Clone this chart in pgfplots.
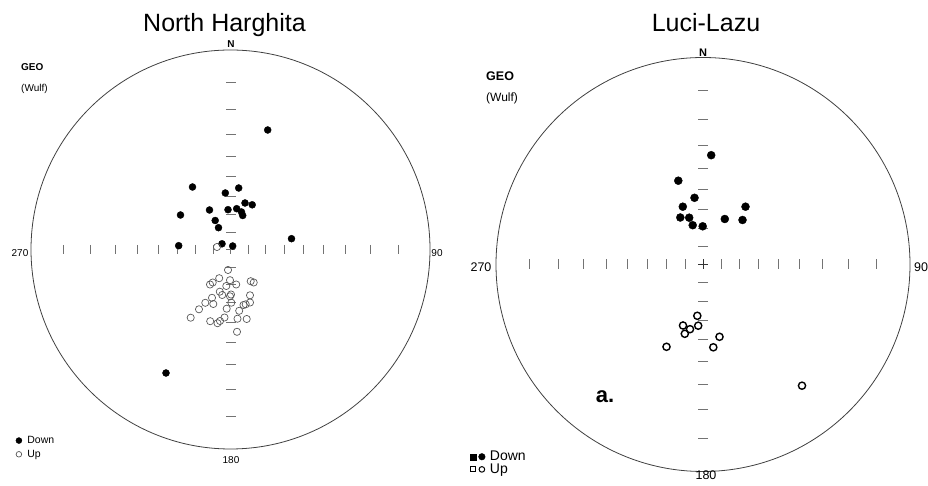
\documentclass[border=0pt]{standalone}
\usepackage{pgfplots}
\pgfplotsset{compat=1.18}
\usepackage{fontspec}
\setmainfont{Liberation Sans}
\begin{document}
\begin{tikzpicture}[x=1pt,y=1pt]
\path[use as bounding box] (0,0) rectangle (928,486);
% ---------------- Left net: North Harghita ----------------
\begin{axis}[at={(230.5pt,236.5pt)}, anchor=origin, x=1pt, y=1pt,
  xmin=-199.5, xmax=199.5, ymin=-199.5, ymax=199.5,
  axis lines=none, clip=false,
  legend style={at={(axis cs:-215,-185.5)}, anchor=north west, draw=none, fill=none,
    font=\fontsize{10.5}{10.5}\selectfont, row sep=3pt, inner sep=0pt,
    nodes={inner xsep=2.5pt, inner ysep=1pt},
    legend cell align=left}]
\draw[black!75, line width=0.8pt] (axis cs:0,0) circle[radius=199.5];
\addplot[forget plot, only marks, mark=|, mark size=4.5pt, black!55, mark options={line width=0.8pt}]
 coordinates {(-167.4,0) (-139.7,0) (-115.2,0) (-93.0,0) (-72.6,0) (-53.4,0) (-35.2,0) (-17.5,0)
              (17.5,0) (35.2,0) (53.4,0) (72.6,0) (93.0,0) (115.2,0) (139.7,0) (167.4,0)};
\addplot[forget plot, only marks, mark=-, mark size=5pt, black!55, mark options={line width=0.8pt}]
 coordinates {(0,-167.4) (0,-139.7) (0,-115.2) (0,-93.0) (0,-72.6) (0,-53.4) (0,-35.2) (0,-17.5)
              (0,17.5) (0,35.2) (0,53.4) (0,72.6) (0,93.0) (0,115.2) (0,139.7) (0,167.4)};
\addplot[forget plot, only marks, mark=+, mark size=4.5pt, black!55, mark options={line width=0.8pt}]
 coordinates {(0,0)};
\addplot[only marks, mark=*, mark size=3.5pt, black,
  legend image code/.code={\path[draw=none,fill=none] (0pt,-1pt) rectangle (9pt,1pt); \fill (3pt,0pt) circle (3pt);}]
 coordinates {(37.2,119.5) (-38,62.5) (-5.2,56.5) (8.2,61.5) (-50,34.5) (-21,39.5) (-2.5,39.8)
   (6.2,40.8) (14.5,46.5) (21.7,44.7) (12.2,34) (11,37.5) (-15.3,29) (-12,21.8) (61,10.8)
   (-51.8,3.8) (-8.5,5.7) (2.2,3.5) (-64.5,-123.5)};
\addlegendentry{Down}
\addplot[only marks, mark=o, mark size=3.6pt, black!65, mark options={line width=0.7pt},
  legend image code/.code={\path[draw=none,fill=none] (0pt,-1pt) rectangle (9pt,1pt); \draw[black!65, line width=0.7pt] (3pt,0pt) circle (2.8pt);}]
 coordinates {(-13.5,2.5) (-2.5,-20.5) (-11.3,-28.7) (-17.8,-33) (-20.5,-35) (-0.5,-30.7)
   (-4.2,-36.5) (5.7,-35) (20.2,-31.7) (23.2,-33) (-10.7,-42.2) (0.5,-45) (-0.5,-46.8)
   (-8.3,-45.5) (-18.5,-48.3) (19.5,-45.8) (-25.2,-53.3) (-17.2,-54.5) (0.8,-53.2)
   (19.5,-53) (13,-55.5) (15.2,-54.8) (-31.5,-59.8) (-3.8,-59.2) (8.7,-61.3) (-39.8,-68.2)
   (-20.3,-71.7) (-13,-73.7) (-10.5,-71.5) (-6,-68) (7,-69.2) (16.2,-69.5) (6.5,-82.3)};
\addlegendentry{Up}
\end{axis}
% ---------------- Right net: Luci-Lazu ----------------
\begin{axis}[at={(703pt,221.5pt)}, anchor=origin, x=1pt, y=1pt,
  xmin=-207, xmax=207, ymin=-207, ymax=207,
  axis lines=none, clip=false,
  legend style={at={(axis cs:-233,-186)}, anchor=north west, draw=none, fill=none,
    font=\fontsize{14}{14}\selectfont, row sep=0.5pt, inner sep=0pt,
    nodes={inner xsep=2.5pt, inner ysep=0.5pt},
    legend cell align=left}]
\draw[black!75, line width=0.8pt] (axis cs:0,0) circle[radius=207];
\addplot[forget plot, only marks, mark=|, mark size=5pt, black!55, mark options={line width=0.8pt}]
 coordinates {(-173.7,0) (-144.9,0) (-119.5,0) (-96.5,0) (-75.3,0) (-55.5,0) (-36.5,0) (-18.1,0)
              (18.1,0) (36.5,0) (55.5,0) (75.3,0) (96.5,0) (119.5,0) (144.9,0) (173.7,0)};
\addplot[forget plot, only marks, mark=-, mark size=5pt, black!55, mark options={line width=0.8pt}]
 coordinates {(0,-173.7) (0,-144.9) (0,-119.5) (0,-96.5) (0,-75.3) (0,-55.5) (0,-36.5) (0,-18.1)
              (0,18.1) (0,36.5) (0,55.5) (0,75.3) (0,96.5) (0,119.5) (0,144.9) (0,173.7)};
\addplot[forget plot, only marks, mark=+, mark size=5pt, black!80, mark options={line width=0.9pt}]
 coordinates {(0,0)};
\addplot[only marks, mark=*, mark size=4pt, black,
  legend image code/.code={\path[draw=none,fill=none] (0pt,-1pt) rectangle (17pt,1pt); \fill (0pt,-3pt) rectangle (6pt,3pt); \fill (11.5pt,0pt) circle (3.3pt);}]
 coordinates {(8.2,109.3) (-24.7,83.8) (-8.5,66.7) (-20.2,57.8) (42.5,57.8) (-22.7,47)
   (-13.8,46.8) (-10.3,39.3) (-0.3,38.2) (21.8,45.5) (39.5,44.5)};
\addlegendentry{Down}
\addplot[only marks, mark=o, mark size=3.6pt, black, mark options={line width=1.4pt},
  legend image code/.code={\path[draw=none,fill=none] (0pt,-1pt) rectangle (17pt,1pt); \draw[line width=0.9pt] (0.5pt,-2.5pt) rectangle (5.5pt,2.5pt); \draw[line width=1pt] (11.5pt,0pt) circle (2.8pt);}]
 coordinates {(-5.7,-51.3) (-20,-61) (-4.8,-61.2) (-13,-64.7) (-18.2,-69.3) (16.5,-72.3)
   (10.3,-82.8) (-36.5,-82.3) (99,-121.2)};
\addlegendentry{Up}
\end{axis}
% ---------------- Texts ----------------
\node[font=\fontsize{25}{25}\selectfont] at (224.5,461) {North Harghita};
\node[font=\fontsize{10}{10}\selectfont\bfseries] at (231,442) {N};
\node[font=\fontsize{10}{10}\selectfont\bfseries, anchor=west, inner sep=0pt] at (21,419) {GEO};
\node[font=\fontsize{10}{10}\selectfont, anchor=west, inner sep=0pt] at (21,397) {(Wulf)};
\node[font=\fontsize{10}{10}\selectfont] at (20,233) {270};
\node[font=\fontsize{10}{10}\selectfont] at (437,233) {90};
\node[font=\fontsize{10}{10}\selectfont] at (231,26) {180};

\node[font=\fontsize{25}{25}\selectfont] at (706,463) {Luci-Lazu};
\node[font=\fontsize{11}{11}\selectfont\bfseries] at (703,433) {N};
\node[font=\fontsize{12.5}{13}\selectfont\bfseries, anchor=west, inner sep=0pt] at (486,410) {GEO};
\node[font=\fontsize{12}{13}\selectfont, anchor=west, inner sep=0pt] at (486,388) {(Wulf)};
\node[font=\fontsize{12.5}{13}\selectfont] at (481,219) {270};
\node[font=\fontsize{12.5}{13}\selectfont] at (921,219) {90};
\node[font=\fontsize{12.5}{13}\selectfont] at (706,11) {180};
\node[font=\fontsize{22}{22}\selectfont\bfseries] at (605,89) {a.};
\end{tikzpicture}
\end{document}
